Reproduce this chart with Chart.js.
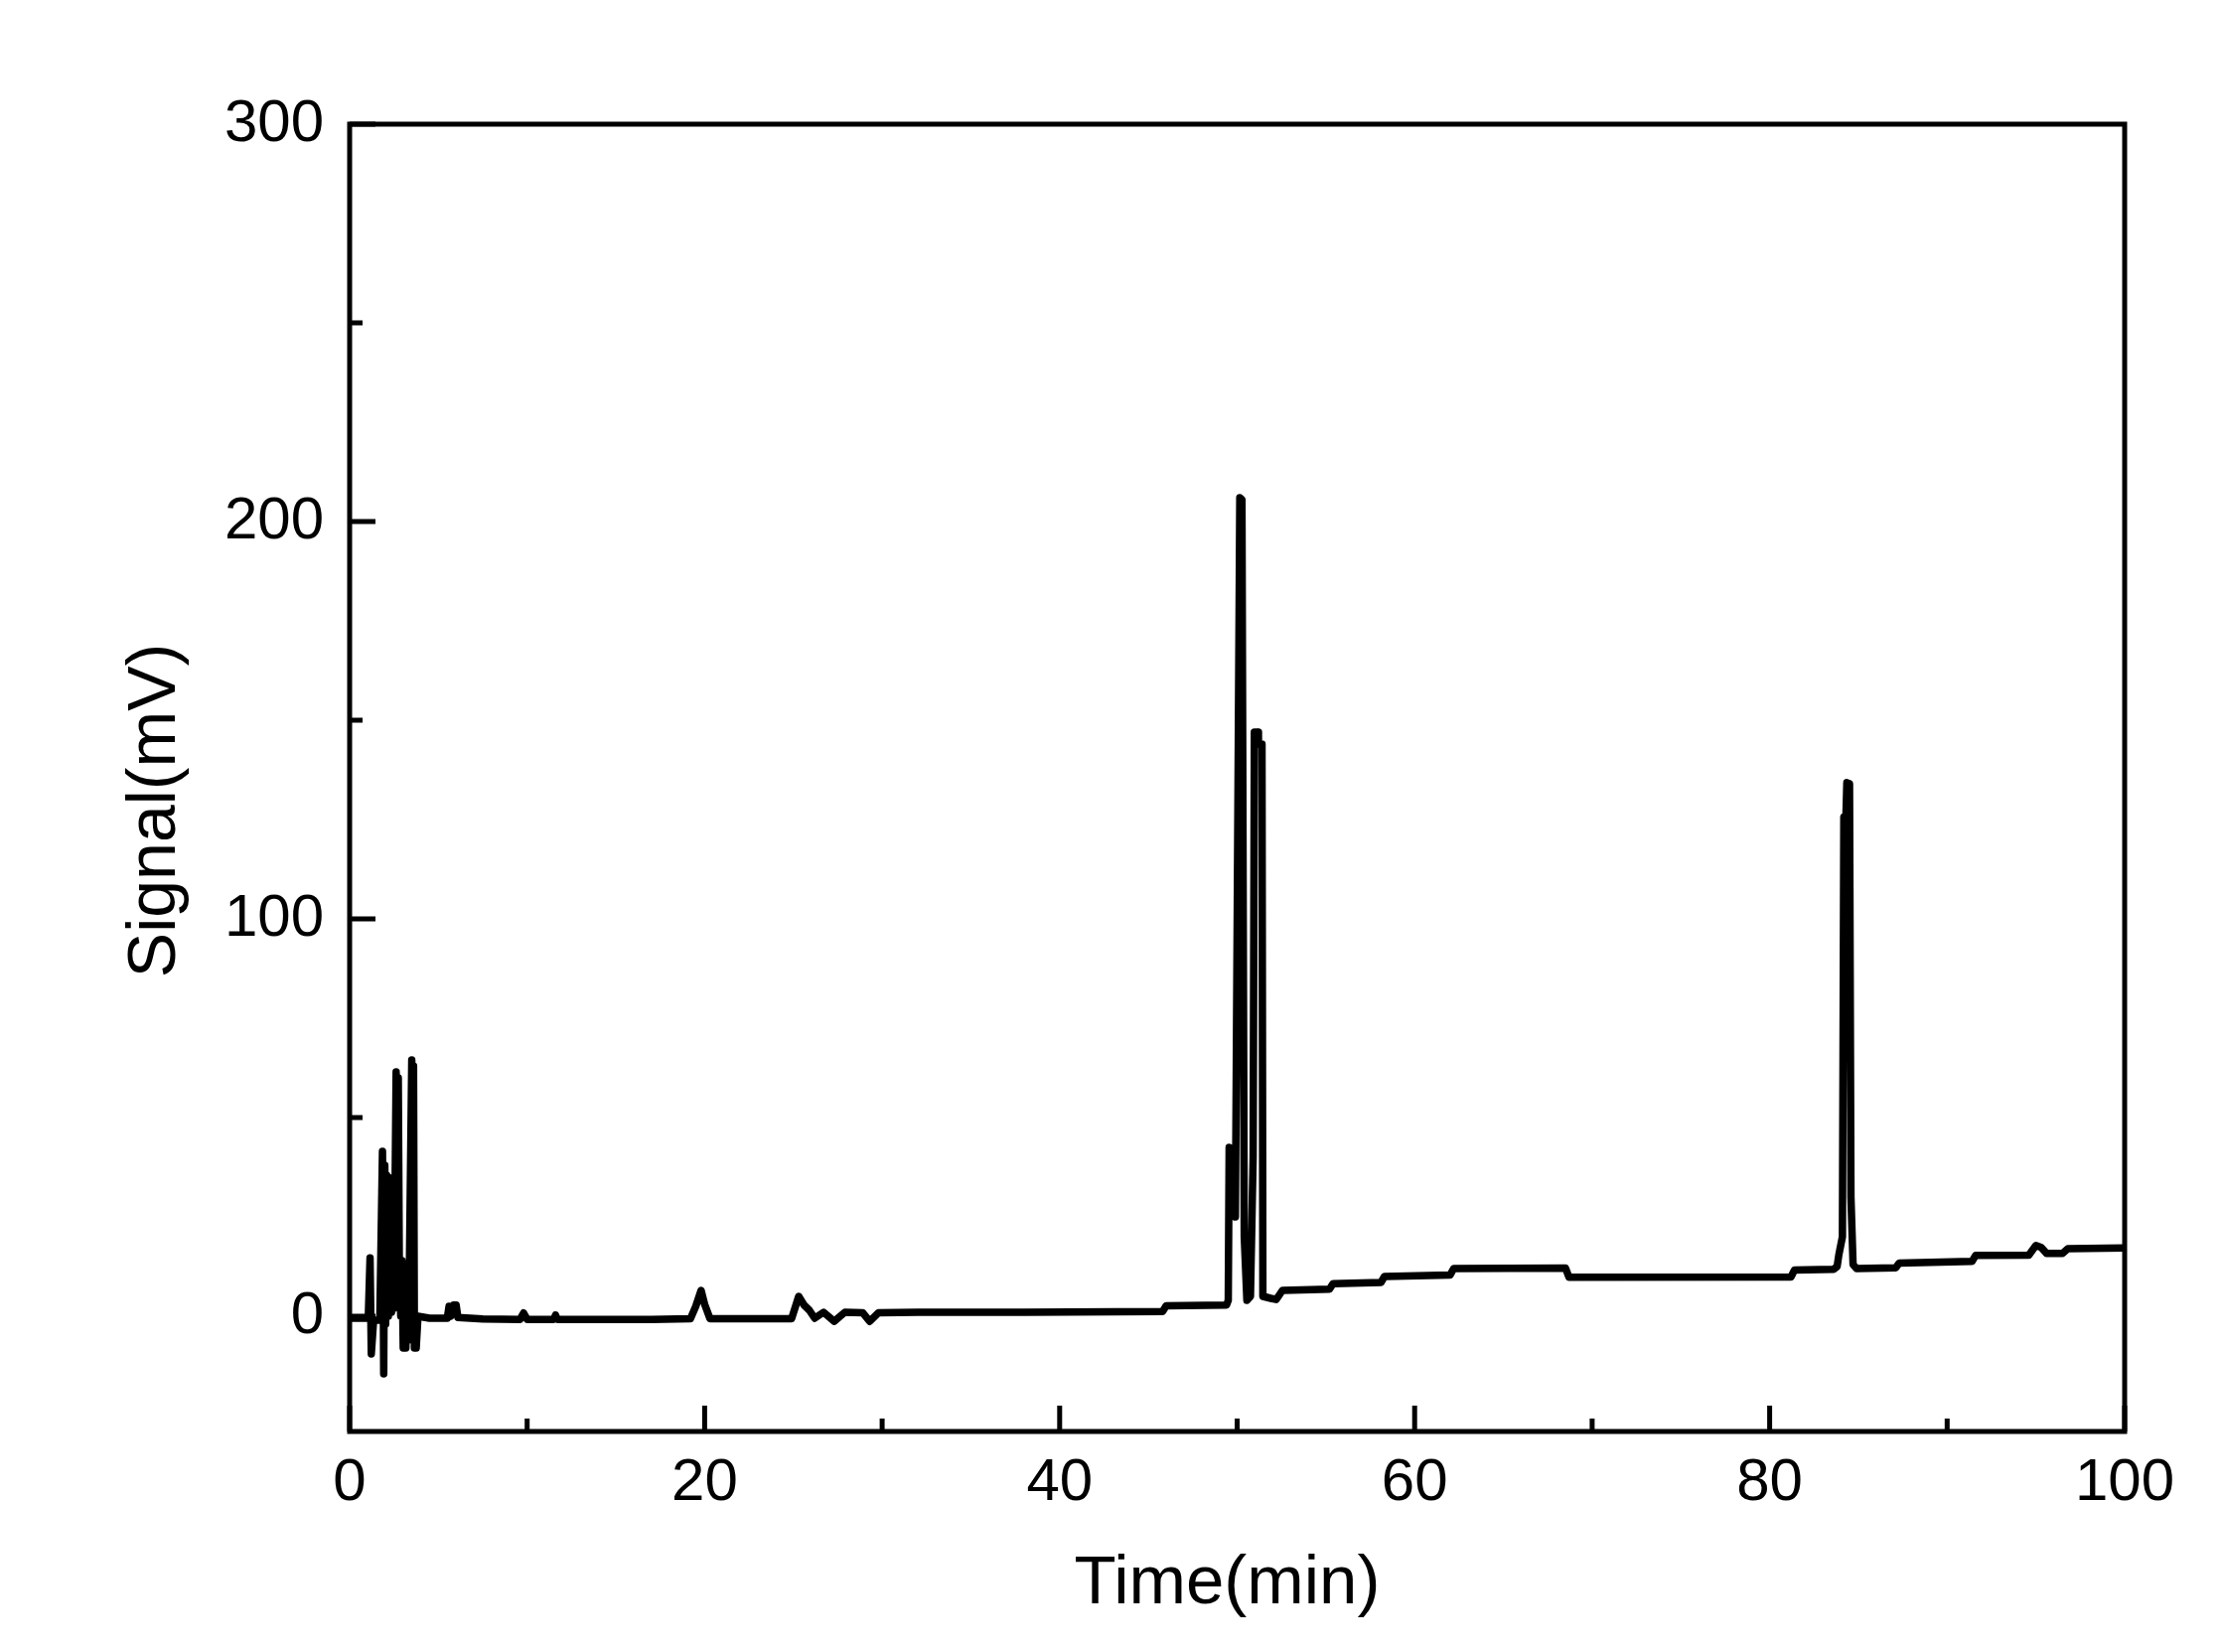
<!DOCTYPE html>
<html>
<head>
<meta charset="utf-8">
<script src="https://cdn.jsdelivr.net/npm/chart.js@4/dist/chart.umd.min.js"></script>
<style>
html,body{margin:0;padding:0;background:#ffffff;}
#wrap{width:2236px;height:1663px;}
</style>
</head>
<body>
<div id="wrap"><canvas id="c" width="2236" height="1663"></canvas></div>
<script>
// ---- chart text ----
const xTitle = 'Time(min)';
const yTitle = 'Signal(mV)';

// ---- tick labels ----
const xTickValues = [0, 20, 40, 60, 80, 100];
const yTickValues = [0, 100, 200, 300];

// ---- series ----
const timeMin = [
  0, 1.05, 1.15, 1.22, 1.35, 1.7, 1.85, 1.92, 1.98, 2.03,
  2.08, 2.13, 2.18, 2.23, 2.3, 2.36, 2.42, 2.5, 2.62, 2.68,
  2.74, 2.8, 2.88, 2.95, 3.02, 3.1, 3.17, 3.25, 3.32, 3.5,
  3.55, 3.6, 3.65, 3.75, 3.85, 4.5, 5.5, 5.6, 5.7, 5.85,
  6.0, 6.1, 7.5, 9.6, 9.8, 10.0, 11.5, 11.6, 11.7, 17.0,
  19.2, 19.5, 19.8, 20.0, 20.3, 24.9, 25.3, 25.6, 25.9, 26.2,
  26.7, 27.3, 27.9, 28.9, 29.3, 29.8, 32.0, 38.0, 45.8, 46.0,
  49.4, 49.5, 49.55, 49.75, 49.9, 50.15, 50.27, 50.4, 50.55, 50.75,
  50.9, 50.97, 51.15, 51.2, 51.4, 51.45, 51.9, 52.2, 52.4, 52.55,
  55.2, 55.4, 58.1, 58.3, 62.0, 62.2, 68.5, 68.7, 81.2, 81.4,
  83.6, 83.8, 83.9, 84.1, 84.18, 84.3, 84.35, 84.5, 84.58, 84.7,
  84.9, 87.1, 87.3, 91.4, 91.6, 94.6, 95.0, 95.3, 95.6, 96.5,
  96.8, 100
];
const signalMv = [
  -0.5, -0.5, 14.7, -9.5, -1, -1, 41.5, -14.5, 38, -2,
  35.5, 0, 35, 1, 33, 1, 30, 2, 61.5, 5,
  60, 12, 0, 14, -8, 12, -8, 10, -6, 64.5,
  -4, 63, -8, -8, 0, -0.5, -0.5, 2.5, 0, 2.8,
  2.8, -0.3, -0.7, -0.8, 0.8, -0.8, -0.8, 0.3, -0.8, -0.8,
  -0.6, 2.5, 6.5, 3, -0.6, -0.6, 5, 2.8, 1.5, -0.5,
  1.0, -1.3, 1.0, 0.9, -1.3, 0.9, 1.0, 1.0, 1.2, 2.6,
  2.8, 4, 42.5, 42, 25, 206, 205.5, 20, 4, 5,
  40, 147, 147, 144, 144, 5, 4.5, 4.2, 5.5, 6.5,
  6.8, 8.2, 8.5, 10.0, 10.4, 12.0, 12.1, 9.8, 9.9, 11.6,
  11.8, 12.5, 15.5, 20, 125.7, 126, 134.3, 134, 30, 13,
  12, 12.2, 13.4, 13.8, 15.3, 15.4, 17.8, 17.3, 15.8, 15.8,
  17.0, 17.2
];

const FONT = "'Liberation Sans', Arial, Helvetica, sans-serif";

function midpoints(arr) {
  const out = [];
  for (let i = 0; i < arr.length - 1; i++) out.push((arr[i] + arr[i + 1]) / 2);
  return out;
}

// frame + inward ticks, positioned by the chart's own scales
const frameAndTicks = {
  id: 'frameAndTicks',
  afterDatasetsDraw(chart) {
    const {ctx, chartArea: a, scales: {x, y}} = chart;
    ctx.save();
    ctx.strokeStyle = '#000';
    ctx.lineWidth = 5;
    ctx.lineCap = 'butt';
    const tick = (x1, y1, x2, y2) => { ctx.beginPath(); ctx.moveTo(x1, y1); ctx.lineTo(x2, y2); ctx.stroke(); };
    xTickValues.forEach(v => { const p = x.getPixelForValue(v); tick(p, a.bottom, p, a.bottom - 26); });
    midpoints(xTickValues).forEach(v => { const p = x.getPixelForValue(v); tick(p, a.bottom, p, a.bottom - 13); });
    yTickValues.forEach(v => { const p = y.getPixelForValue(v); tick(a.left, p, a.left + 26, p); });
    midpoints(yTickValues).forEach(v => { const p = y.getPixelForValue(v); tick(a.left, p, a.left + 13, p); });
    ctx.lineJoin = 'miter';
    ctx.strokeRect(a.left, a.top, a.right - a.left, a.bottom - a.top);
    ctx.restore();
  }
};

// small nudge of the axis titles along their axes
const titleShift = {
  id: 'titleShift',
  beforeDraw(chart) {
    const ys = chart.scales.y, xs = chart.scales.x;
    if (ys && !ys._titleShifted) {
      const orig = ys.drawTitle;
      ys.drawTitle = function () { this.top += 33; this.bottom += 33; orig.call(this); this.top -= 33; this.bottom -= 33; };
      ys._titleShifted = true;
    }
    if (xs && !xs._titleShifted) {
      const orig = xs.drawTitle;
      xs.drawTitle = function () { this.left -= 10; this.right -= 10; orig.call(this); this.left += 10; this.right += 10; };
      xs._titleShifted = true;
    }
  }
};

const points = timeMin.map((t, i) => ({x: t, y: signalMv[i]}));

new Chart(document.getElementById('c'), {
  type: 'line',
  data: {
    datasets: [{
      label: 'Signal',
      data: points,
      borderColor: '#000',
      backgroundColor: '#000',
      borderWidth: 7.5,
      pointRadius: 0,
      tension: 0,
      fill: false,
      borderJoinStyle: 'round',
      borderCapStyle: 'round'
    }]
  },
  options: {
    responsive: false,
    animation: false,
    devicePixelRatio: 1,
    layout: {padding: {left: 0, top: 125, right: 97, bottom: 0}},
    plugins: {legend: {display: false}, tooltip: {enabled: false}, title: {display: false}},
    scales: {
      x: {
        type: 'linear',
        min: 0, max: 100,
        grid: {display: false, drawTicks: false},
        border: {display: false},
        ticks: {
          stepSize: 20,
          padding: 16,
          color: '#000',
          font: {family: FONT, size: 60},
          maxRotation: 0
        },
        title: {
          display: true, text: xTitle, color: '#000',
          font: {family: FONT, size: 69},
          padding: {top: 0, bottom: 27}
        },
        afterFit(scale) { scale.height = 222; }
      },
      y: {
        type: 'linear',
        min: -29, max: 300,
        grid: {display: false, drawTicks: false},
        border: {display: false},
        ticks: {
          stepSize: 100,
          includeBounds: false,
          padding: 26,
          color: '#000',
          font: {family: FONT, size: 60}
        },
        title: {
          display: true, text: yTitle, color: '#000',
          font: {family: FONT, size: 68},
          padding: {top: 116, bottom: 0}
        },
        afterFit(scale) { scale.width = 352; }
      }
    }
  },
  plugins: [titleShift, frameAndTicks]
});
</script>
</body>
</html>
